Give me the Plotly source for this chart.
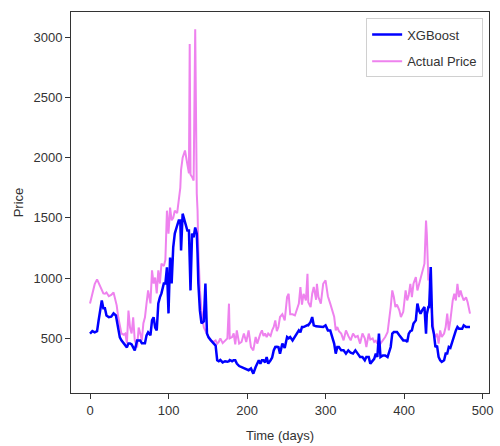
import plotly.graph_objects as go

days = [0,3,6,9,11,13,15,17,19,21,24,27,30,33,34,36,38,40,43,45,47,49,51,53,55,57,60,62,64,66,68,70,72,74,77,79,81,83,85,87,89,91,94,96,98,100,102,104,106,108,111,113,115,116,118,121,124,126,127,128,130,132,134,135,136,137,138,140,142,145,147,149,151,154,157,160,162,164,166,169,172,175,177,178,181,183,185,187,190,193,196,199,202,205,208,211,213,215,217,219,221,223,225,227,230,232,234,236,238,240,242,245,248,251,253,255,258,261,264,266,268,270,272,275,277,278,281,283,285,288,289,291,294,297,300,303,306,309,311,313,315,317,320,323,326,329,332,335,338,341,344,347,350,352,355,357,360,362,364,366,368,370,373,376,379,381,383,385,387,389,391,394,396,399,402,404,406,408,410,412,415,417,419,421,423,426,428,429,431,432,434,436,438,440,442,444,446,448,451,453,455,457,459,462,464,466,468,470,472,474,476,479,481,484]

xgboost = [540,560,550,560,650,730,815,750,750,690,675,680,707,690,650,566,508,483,460,440,425,458,458,450,417,400,483,483,483,460,458,460,525,550,525,650,675,590,566,790,840,873,955,955,1090,707,1170,955,1255,1370,1437,1478,1478,1230,1535,1453,1395,1395,1200,898,1370,1340,1420,1400,1370,1200,955,730,625,640,955,540,508,483,458,440,318,310,320,300,310,305,310,320,310,318,318,290,270,262,250,240,235,250,207,262,290,318,290,318,318,300,345,290,318,340,400,428,430,428,373,456,420,511,500,511,483,511,539,566,550,594,594,608,610,608,636,677,608,600,600,594,594,594,608,566,566,511,456,373,428,428,400,400,373,400,380,373,400,373,345,345,318,345,345,290,318,330,373,345,539,345,358,358,345,380,428,539,552,552,552,525,510,483,483,470,539,560,566,622,649,788,732,705,732,760,539,700,760,760,1092,600,539,428,440,345,318,304,318,373,373,428,420,483,539,566,594,580,580,580,608,594,594,594]

actual = [790,880,950,990,960,923,900,873,870,881,850,860,881,800,774,675,590,540,530,540,458,730,590,540,675,483,425,590,540,483,625,675,790,898,790,1064,955,1005,873,1064,955,1120,1100,1150,1560,1370,1585,1480,1500,1560,1540,1650,1750,1900,2000,2060,1950,1870,2945,1860,1840,1810,3066,1800,1700,1560,1230,900,730,590,560,540,510,483,470,483,456,470,500,460,480,500,788,500,510,540,450,566,456,470,540,470,566,428,400,511,456,500,539,566,520,540,510,540,520,566,594,649,560,594,677,700,649,843,870,700,700,690,740,788,926,780,870,815,1036,800,760,870,926,820,953,843,788,953,981,850,788,732,680,566,594,560,539,483,566,520,483,540,510,520,456,540,500,428,539,490,500,470,480,456,480,456,480,511,550,649,760,898,843,760,780,732,677,720,898,815,860,953,843,953,1009,898,950,1009,1064,1120,1478,1367,981,1036,815,649,539,511,539,456,566,511,540,594,705,566,649,815,870,815,953,843,898,850,815,840,800,705]

x_ticks = [0, 100, 200, 300, 400, 500]
y_ticks = [500, 1000, 1500, 2000, 2500, 3000]

font_family = "Liberation Sans, Arial, sans-serif"

fig = go.Figure()
fig.add_trace(go.Scatter(x=days, y=actual, mode="lines", name="Actual Price",
                         line=dict(color="#EE82EE", width=2), legendgroup="b",
                         legendrank=2))
fig.add_trace(go.Scatter(x=days, y=xgboost, mode="lines", name="XGBoost",
                         line=dict(color="#0000FF", width=2.5), legendgroup="a",
                         legendrank=1))

axis_common = dict(showline=True, linecolor="#333333", linewidth=1, mirror=True,
                   ticks="outside", ticklen=5, tickcolor="#333333", showgrid=False,
                   zeroline=False, automargin=False,
                   tickfont=dict(size=13, color="#333333", family=font_family))

fig.update_layout(
    width=500, height=446,
    margin=dict(l=71, r=11, t=12, b=53),
    plot_bgcolor="white", paper_bgcolor="white",
    font=dict(family=font_family, color="#333333"),
    xaxis=dict(range=[-24.2, 508.2], tickvals=x_ticks,
               title=dict(text="Time (days)", font=dict(size=13), standoff=14), **axis_common),
    yaxis=dict(range=[46, 3210], tickvals=y_ticks,
               title=dict(text="Price", font=dict(size=13), standoff=6), **axis_common),
    legend=dict(x=0.986, y=0.983, xanchor="right", yanchor="top",
                bgcolor="white", bordercolor="#d0d0d0", borderwidth=1,
                traceorder="grouped", tracegroupgap=7,
                font=dict(size=13, color="#333333")),
    showlegend=True,
)

fig.write_html("out.html", config={"displayModeBar": False},
               post_script="document.body.style.margin='0';document.body.style.padding='0';")
